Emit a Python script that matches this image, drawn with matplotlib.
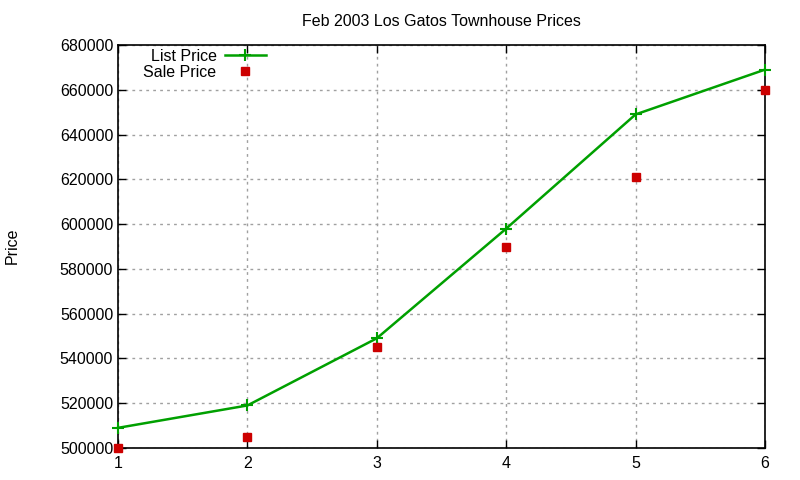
import matplotlib
matplotlib.use('Agg')
import matplotlib.pyplot as plt
from matplotlib.ticker import MultipleLocator

# ── Data ──────────────────────────────────────────────────────────────────────
weeks = [1, 2, 3, 4, 5, 6]
list_price = [509000, 519000, 549000, 598000, 649000, 669000]
sale_price = [500000, 505000, 545000, 590000, 621000, 660000]

plt.rcParams['font.family'] = ['Liberation Sans', 'DejaVu Sans']

fig = plt.figure(figsize=(8, 4.8), dpi=100)
# plot area in pixels: x 118..765, y 45..448 (of 800x480)
ax = fig.add_axes([118 / 800, 1 - 448 / 480, (765 - 118) / 800, (448 - 45) / 480])

ax.plot(weeks, list_price, color='#00a000', lw=1.8, marker='+', ms=9, mew=1.5,
        label='List Price', zorder=3, clip_on=False)
ax.plot(weeks, sale_price, ls='none', color='#cc0000', marker='s', ms=6,
        label='Sale Price', zorder=3, clip_on=False)

ax.set_xlim(1, 6)
ax.set_ylim(500000, 680000)
ax.xaxis.set_major_locator(MultipleLocator(1))
ax.yaxis.set_major_locator(MultipleLocator(20000))
ax.ticklabel_format(axis='y', style='plain', useOffset=False)

ax.grid(True, color='#a0a0a0', ls=(0, (2, 3)), lw=1)
ax.tick_params(direction='in', top=True, right=True, length=6, labelsize=11.5,
               width=1)
ax.tick_params(axis='x', pad=6)
for s in ax.spines.values():
    s.set_linewidth(1.2)

ax.set_title('Feb 2003 Los Gatos Townhouse Prices', fontsize=11.5, pad=14)
fig.text(12 / 800, 1 - 246 / 480, 'Price', rotation=90, fontsize=11.5,
         ha='center', va='center')

leg = ax.legend(loc='upper left', bbox_to_anchor=(0.027, 1.01), frameon=False,
                markerfirst=False, fontsize=11.5, handlelength=2.6,
                borderaxespad=0.1, labelspacing=0.05, handletextpad=0.5)
for t in leg.get_texts():
    t.set_ha('right')

fig.savefig('out.png', dpi=100)
